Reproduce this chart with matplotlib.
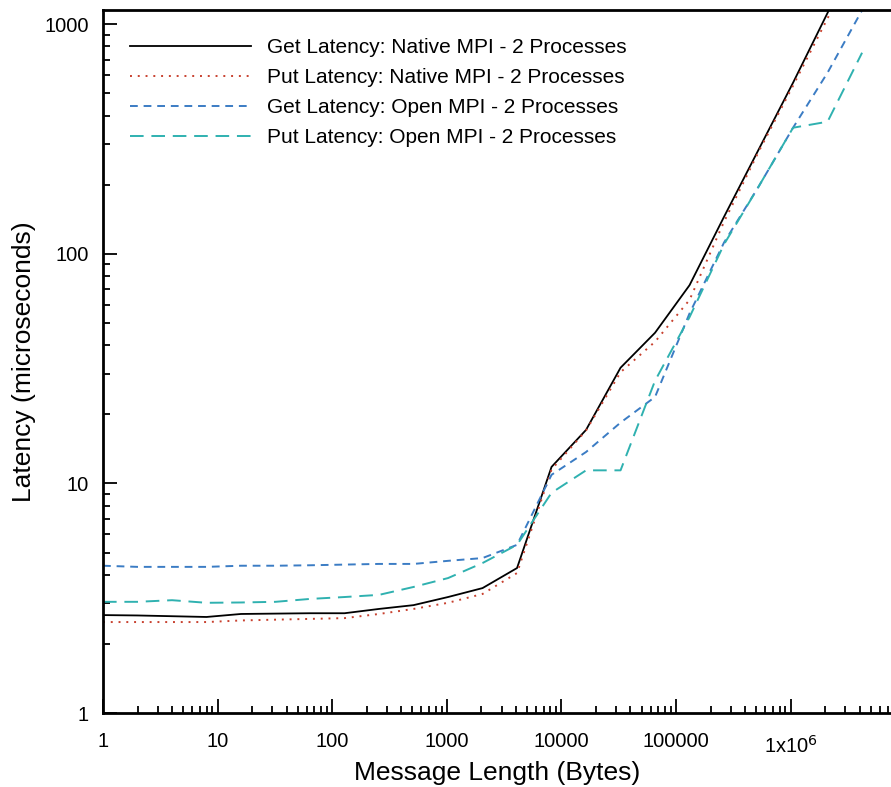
import matplotlib.pyplot as plt
from matplotlib.ticker import FixedLocator, FixedFormatter, LogLocator, NullFormatter
from matplotlib.transforms import ScaledTranslation

plt.rcParams['font.family'] = ['Liberation Sans', 'DejaVu Sans']

# Message sizes in bytes (powers of two)
sizes = [1, 2, 4, 8, 16, 32, 64, 128, 256, 512, 1024, 2048, 4096, 8192,
         16384, 32768, 65536, 131072, 262144, 524288, 1048576, 2097152, 4194304]

get_native = [2.67, 2.66, 2.64, 2.62, 2.7, 2.71, 2.72, 2.72, 2.84, 2.95, 3.2, 3.5, 4.28,
              11.8, 17.1, 31.9, 45.3, 73, 145, 284, 556, 1120, 2250]
put_native = [2.49, 2.49, 2.49, 2.49, 2.53, 2.55, 2.57, 2.59, 2.7, 2.84, 3.02, 3.3, 4.07,
              11.5, 17.0, 30.5, 41.4, 63, 138, 278, 540, 1060, 2150]
get_open = [4.38, 4.33, 4.33, 4.33, 4.38, 4.38, 4.4, 4.43, 4.46, 4.46, 4.6, 4.73, 5.4,
            10.9, 13.7, 18.4, 23.8, 55, 112, 196, 354, 615, 1150]
put_open = [3.05, 3.05, 3.1, 3.02, 3.03, 3.05, 3.14, 3.2, 3.27, 3.54, 3.87, 4.5, 5.4,
            9.1, 11.4, 11.4, 28, 53, 110, 196, 354, 376, 751]

labels = ['Get Latency: Native MPI - 2 Processes',
          'Put Latency: Native MPI - 2 Processes',
          'Get Latency: Open MPI - 2 Processes',
          'Put Latency: Open MPI - 2 Processes']

x_ticks = [1, 10, 100, 1000, 10000, 100000, 1000000]
x_tick_labels = ['1', '10', '100', '1000', '10000', '100000', r'1x10$^6$']
y_ticks = [1, 10, 100, 1000]
y_tick_labels = ['1', '10', '100', '1000']

fig = plt.figure(figsize=(8.91, 7.87), dpi=100)
ax = fig.add_axes([0.1156, 0.094, 0.8844, 0.893])

ax.plot(sizes, get_native, color='black', lw=1.3, ls='-', label=labels[0])
ax.plot(sizes, put_native, color='#c8412f', lw=1.4, ls=(0, (1, 3)), label=labels[1])
ax.plot(sizes, get_open, color='#3b7cc4', lw=1.4, ls=(0, (4, 3)), label=labels[2])
ax.plot(sizes, put_open, color='#2fb1b0', lw=1.4, ls=(0, (7, 4)), label=labels[3])

ax.set_xscale('log')
ax.set_yscale('log')
ax.set_xlim(1, 7.5e6)
ax.set_ylim(1, 1150)

ax.xaxis.set_major_locator(FixedLocator(x_ticks))
ax.xaxis.set_major_formatter(FixedFormatter(x_tick_labels))
ax.xaxis.set_minor_locator(LogLocator(base=10, subs=range(2, 10), numticks=20))
ax.xaxis.set_minor_formatter(NullFormatter())
ax.yaxis.set_major_locator(FixedLocator(y_ticks))
ax.yaxis.set_major_formatter(FixedFormatter(y_tick_labels))
ax.yaxis.set_minor_locator(LogLocator(base=10, subs=range(2, 10), numticks=20))
ax.yaxis.set_minor_formatter(NullFormatter())

ax.tick_params(which='both', direction='in', top=False, right=False, width=1.3)
ax.tick_params(which='major', length=10, labelsize=14.5)
ax.tick_params(axis='x', which='major', pad=14)
ax.tick_params(axis='y', which='major', pad=10)
ax.tick_params(which='minor', length=5)

# the 1x10^6 label sits a little lower, as in the original
fig.canvas.draw()
for lbl in ax.get_xticklabels():
    if 'x10' in lbl.get_text():
        lbl.set_transform(lbl.get_transform() + ScaledTranslation(0, -2 / 72, fig.dpi_scale_trans))

for s in ['left', 'bottom', 'top']:
    ax.spines[s].set_linewidth(2)
ax.spines['right'].set_visible(False)

ax.set_xlabel('Message Length (Bytes)', fontsize=19)
ax.xaxis.set_label_coords(0.5, -0.068)
ax.set_ylabel('Latency (microseconds)', fontsize=19)
ax.yaxis.set_label_coords(-0.085, 0.5)

ax.legend(loc='upper left', frameon=False, fontsize=15, handlelength=5.8,
          handletextpad=0.77, labelspacing=0.52, borderpad=0, borderaxespad=0,
          bbox_to_anchor=(0.034, 0.96))

fig.savefig('out.png', dpi=100)
